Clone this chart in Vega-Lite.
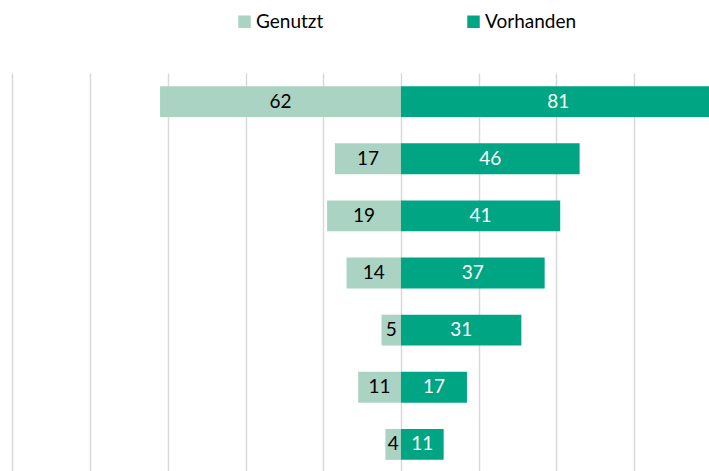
{
  "$schema": "https://vega.github.io/schema/vega-lite/v6.json",
  "width": 709,
  "height": 400,
  "autosize": {"type": "none"},
  "padding": {"left": 0, "top": 73, "right": 0, "bottom": 0},
  "background": "white",
  "config": {"view": {"stroke": null}, "font": "Lato"},
  "data": {
    "values": [
      {"kat": "1", "serie": "Genutzt", "wert": 62},
      {"kat": "1", "serie": "Vorhanden", "wert": 81},
      {"kat": "2", "serie": "Genutzt", "wert": 17},
      {"kat": "2", "serie": "Vorhanden", "wert": 46},
      {"kat": "3", "serie": "Genutzt", "wert": 19},
      {"kat": "3", "serie": "Vorhanden", "wert": 41},
      {"kat": "4", "serie": "Genutzt", "wert": 14},
      {"kat": "4", "serie": "Vorhanden", "wert": 37},
      {"kat": "5", "serie": "Genutzt", "wert": 5},
      {"kat": "5", "serie": "Vorhanden", "wert": 31},
      {"kat": "6", "serie": "Genutzt", "wert": 11},
      {"kat": "6", "serie": "Vorhanden", "wert": 17},
      {"kat": "7", "serie": "Genutzt", "wert": 4},
      {"kat": "7", "serie": "Vorhanden", "wert": 11}
    ]
  },
  "transform": [
    {"calculate": "datum.serie === 'Genutzt' ? -datum.wert : datum.wert", "as": "signed"},
    {"calculate": "datum.signed / 2", "as": "mid"}
  ],
  "encoding": {
    "y": {
      "field": "kat",
      "type": "nominal",
      "sort": null,
      "axis": null,
      "scale": {"paddingInner": 0.46, "paddingOuter": 0.23}
    }
  },
  "layer": [
    {
      "mark": {"type": "bar", "clip": true},
      "encoding": {
        "x": {
          "field": "signed",
          "type": "quantitative",
          "scale": {"domain": [-103.2, 79.3], "nice": false, "zero": false},
          "axis": {
            "values": [-100, -80, -60, -40, -20, 0, 20, 40, 60],
            "labels": false,
            "ticks": false,
            "domain": false,
            "title": null,
            "grid": true,
            "gridColor": "#d9d9d9",
            "gridWidth": 1.5
          }
        },
        "x2": {"datum": 0},
        "color": {
          "field": "serie",
          "type": "nominal",
          "scale": {"domain": ["Genutzt", "Vorhanden"], "range": ["#abd3c3", "#00a683"]},
          "legend": {
            "orient": "none",
            "direction": "horizontal",
            "legendX": 235,
            "legendY": -61,
            "title": null,
            "symbolType": "square",
            "symbolSize": 156,
            "symbolStrokeWidth": 0,
            "labelFontSize": 19,
            "labelColor": "#000000",
            "labelOffset": 2,
            "columnPadding": 140,
            "padding": 0
          }
        }
      }
    },
    {
      "mark": {"type": "text", "fontSize": 19, "baseline": "middle", "align": "center"},
      "encoding": {
        "x": {"field": "mid", "type": "quantitative"},
        "text": {"field": "wert", "type": "quantitative"},
        "color": {
          "condition": {"test": "datum.serie === 'Vorhanden'", "value": "white"},
          "value": "black"
        }
      }
    }
  ]
}
